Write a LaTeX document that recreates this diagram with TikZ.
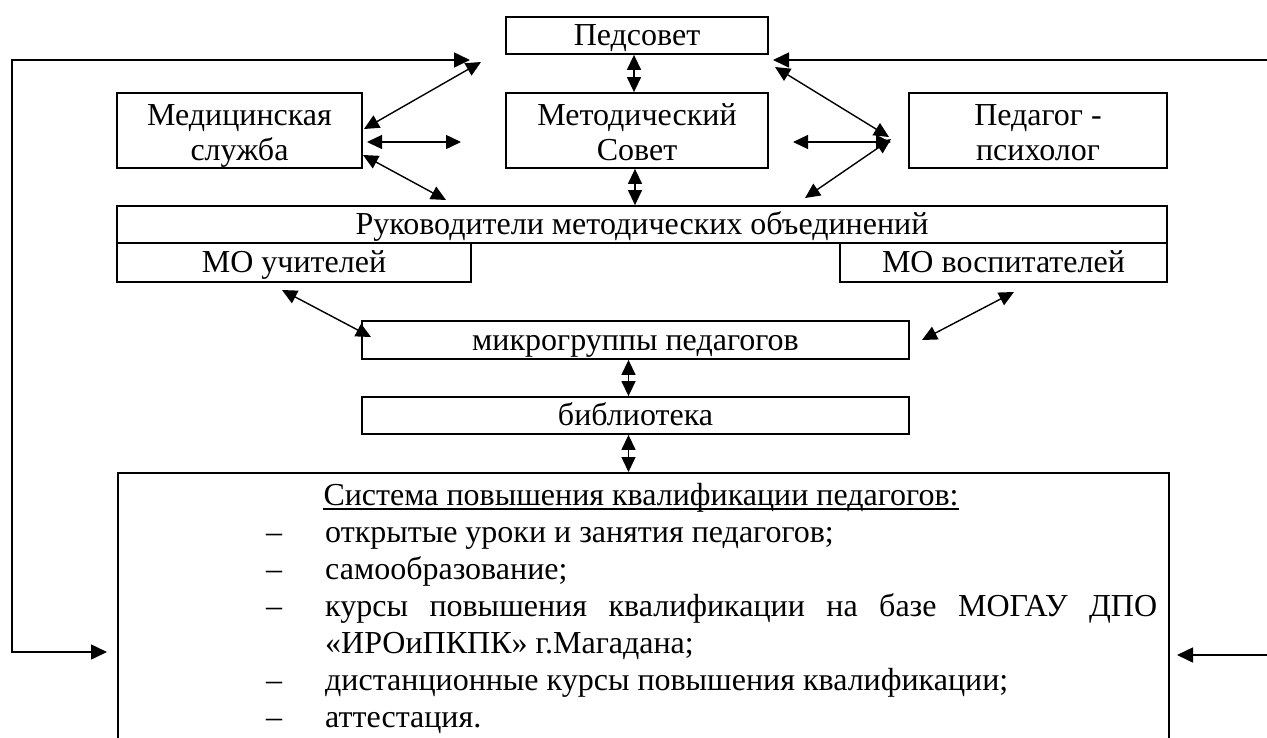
\documentclass[tikz,border=0pt]{standalone}
\usepackage{fontspec}
\setmainfont{Liberation Serif}
\usetikzlibrary{arrows.meta}
\begin{document}
\begin{tikzpicture}[x=1pt,y=-1pt,
  font=\fontsize{32}{35}\selectfont,
  box/.style={draw, line width=1.8pt, inner sep=0pt, align=center},
  one/.style={box, text height=25pt, text depth=5pt},
  two/.style={box, text height=67pt, text depth=7pt},
  txt/.style={inner sep=0pt, anchor=base west},
  lnk/.style={line width=1.4pt, {Triangle[length=15pt,width=14pt]}-{Triangle[length=15pt,width=14pt]}},
  loopln/.style={line width=1.6pt, {Triangle[length=16pt,width=15pt]}-{Triangle[length=16pt,width=15pt]}}]
\clip (0,0) rectangle (1267,737);
\fill[white] (0,0) rectangle (1267,737);
% boxes
\node[one, minimum width=262, minimum height=37] (ped) at (637,35.5) {Педсовет};
\node[two, minimum width=245, minimum height=75] (med) at (239.5,130.5) {Медицинская\\служба};
\node[two, minimum width=262, minimum height=75] (met) at (637,130.5) {Методический\\Совет};
\node[two, minimum width=258, minimum height=75] (psy) at (1038,130.5) {Педагог -\\психолог};
\node[one, minimum width=1050, minimum height=37] (ruk) at (642,224.5) {Руководители методических объединений};
\node[one, minimum width=354, minimum height=39] (mou) at (294,262.5) {МО учителей};
\node[one, minimum width=327, minimum height=39] (mov) at (1003.5,262.5) {МО воспитателей};
\node[one, minimum width=547, minimum height=38] (mik) at (635.5,340) {микрогруппы педагогов};
\node[one, minimum width=547, minimum height=37] (bib) at (635.5,415.5) {библиотека};
\node[box, minimum width=1051, minimum height=330, anchor=north west] (sys) at (117,472) {};
% system text
\node[txt, anchor=base] (t0) at (641,505) {Система повышения квалификации педагогов:};
\draw[line width=1.6pt] ([yshift=-4pt]t0.base west) -- ([yshift=-4pt]t0.base east);
\node[txt] (s1) at (266,542) {–};
\node[txt] (l1) at (325,542) {открытые уроки и занятия педагогов;};
\node[txt] (s2) at (266,579) {–};
\node[txt] (l2) at (325,579) {самообразование;};
\node[txt] (s3) at (266,616) {–};
\node[txt] (l3) at (325,616) {\makebox[832pt][s]{курсы повышения квалификации на базе МОГАУ ДПО}};
\node[txt] (l4) at (325,653) {«ИРОиПКПК» г.Магадана;};
\node[txt] (s5) at (266,690) {–};
\node[txt] (l5) at (325,690) {дистанционные курсы повышения квалификации;};
\node[txt] (s6) at (266,727) {–};
\node[txt] (l6) at (325,727) {аттестация.};
% free connector ends
\coordinate (a1) at (481,62);  \coordinate (a2) at (364,129);
\coordinate (b1) at (367,142); \coordinate (b2) at (461,142);
\coordinate (c1) at (363,155); \coordinate (c2) at (446,200);
\coordinate (d1) at (775,67);  \coordinate (d2) at (889,137);
\coordinate (e1) at (793,142); \coordinate (e2) at (891,142);
\coordinate (f1) at (891,139); \coordinate (f2) at (805,198);
\coordinate (g1) at (282,290); \coordinate (g2) at (371,337);
\coordinate (h1) at (1014,292); \coordinate (h2) at (922,340);
\draw[lnk] (a1) -- (a2);
\draw[lnk] (b1) -- (b2);
\draw[lnk] (c1) -- (c2);
\draw[lnk] (d1) -- (d2);
\draw[lnk] (e1) -- (e2);
\draw[lnk] (f1) -- (f2);
\draw[lnk] (g1) -- (g2);
\draw[lnk] (h1) -- (h2);
% vertical links
\coordinate (v1) at ([xshift=-3pt]ped.south);
\coordinate (v2) at ([xshift=-2pt]met.south);
\coordinate (v3) at ([xshift=-7pt]mik.south);
\coordinate (v4) at ([xshift=-7pt]bib.south);
\draw[lnk] (v1) -- (v1 |- met.north);
\draw[lnk] (v2) -- (v2 |- ruk.north);
\draw[lnk] (v3) -- (v3 |- bib.north);
\draw[lnk] (v4) -- (v4 |- sys.north);
% feedback loops
\coordinate (lt) at (470,60);  \coordinate (la) at (107,652);
\coordinate (lc1) at (12,60);  \coordinate (lc2) at (12,652);
\draw[loopln] (lt) -- (lc1) -- (lc2) -- (la);
\coordinate (rt) at (773,60);  \coordinate (ra) at (1177,655);
\coordinate (rc1) at (1290,60); \coordinate (rc2) at (1290,655);
\draw[loopln] (rt) -- (rc1) -- (rc2) -- (ra);
\end{tikzpicture}
\end{document}
